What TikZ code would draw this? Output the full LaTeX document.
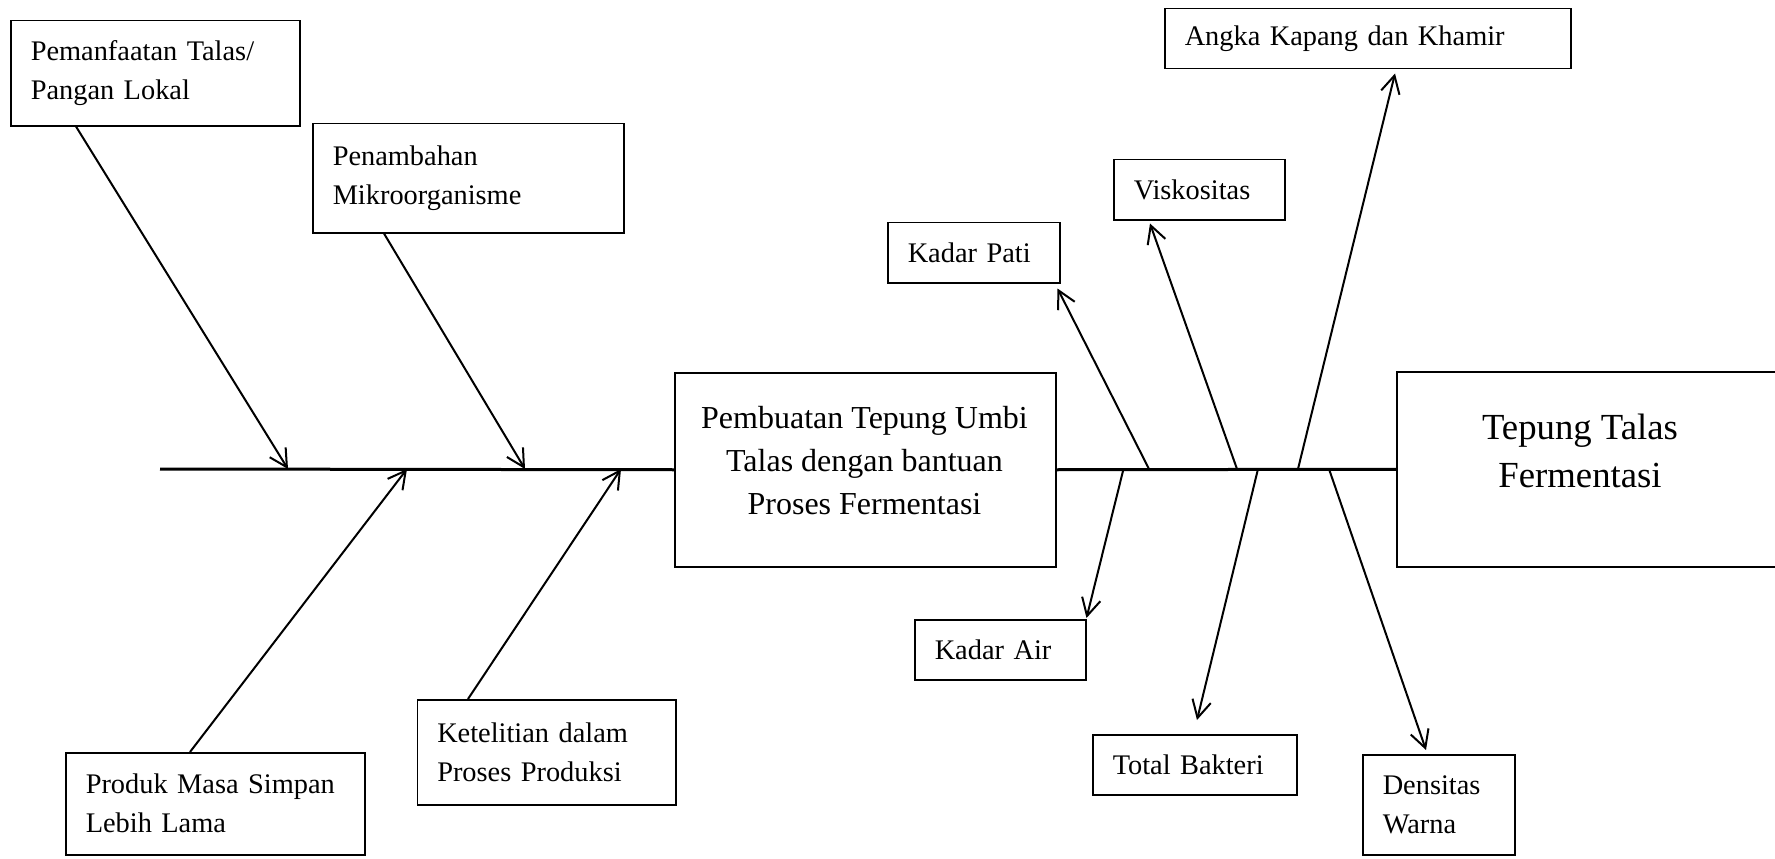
\documentclass[tikz,border=0pt]{standalone}
\usepackage{fontspec}
\setmainfont{Liberation Serif}
\usetikzlibrary{arrows.meta,calc}
\begin{document}
\begin{tikzpicture}[x=0.4pt,y=-0.4pt,
  box/.style={draw, line width=0.6pt, rectangle, anchor=north west, inner xsep=8pt, inner ysep=0pt, align=left, font=\fontsize{11.35}{15.6}\selectfont},
  arr/.style={line width=0.8pt, -{Straight Barb[length=7pt,width=7.5pt]}},
  spine/.style={line width=1.2pt}]
\useasboundingbox (0,0) rectangle (1775,859);

% cause boxes (left)
\node[box, text width=99.6pt, minimum height=42pt] (p1) at (10,20) {Pemanfaatan Talas/\\Pangan Lokal};
\node[box, text width=108.4pt, minimum height=43.6pt] (p2) at (312,123) {Penambahan\\Mikroorganisme};
\node[box, text width=103.6pt, minimum height=40.8pt] (p3) at (65,752) {Produk Masa Simpan\\Lebih Lama};
\node[box, text width=87.4pt, minimum height=42pt] (p4) at (416.5,699) {Ketelitian dalam\\Proses Produksi};

% centre and result
\node[draw, line width=0.6pt, anchor=north west, minimum width=152.4pt, minimum height=77.6pt, inner sep=0pt] (c) at (674,372) {};
\node[font=\fontsize{12.8}{17.2}\selectfont, align=center, inner sep=0pt] (ct) at (864.5,461) {Pembuatan Tepung Umbi\\Talas dengan bantuan\\Proses Fermentasi};
\node[draw, line width=0.6pt, anchor=north west, minimum width=153.6pt, minimum height=78pt, inner sep=0pt] (r) at (1396,371) {};
\node[font=\fontsize{14.7}{19.2}\selectfont, align=center, inner sep=0pt] (rt) at (1580,451) {Tepung Talas\\Fermentasi};

% effect boxes (right)
\node[box, text width=146.4pt, minimum height=24pt] (ak) at (1164,8) {Angka Kapang dan Khamir};
\node[box, text width=52.4pt, minimum height=24pt] (vk) at (1113,159) {Viskositas};
\node[box, text width=52.8pt, minimum height=24pt] (kp) at (887,222) {Kadar Pati};
\node[box, text width=52.4pt, minimum height=24pt] (ka) at (914,619) {Kadar Air};
\node[box, text width=65.6pt, minimum height=24pt] (tb) at (1092,734) {Total Bakteri};
\node[box, text width=44.8pt, minimum height=40pt] (dw) at (1362,754) {Densitas\\Warna};

% spine
\coordinate (s0) at (160,469);
\draw[spine] (s0) -- (c.west);
\draw[spine] (c.east) -- (r.west);

% spine points
\coordinate (a1) at (288,469);
\coordinate (a2) at (525,469);
\coordinate (a3) at (407,469);
\coordinate (a4) at (621,469);
\coordinate (b1) at (1149,469);
\coordinate (b2) at (1237,469);
\coordinate (b3) at (1298,469);
\coordinate (b4) at (1123.5,469);
\coordinate (b5) at (1258,469);
\coordinate (b6) at (1329,469);

% left arrows
\draw[arr] ([shift={(66,0)}]p1.south west) -- (a1);
\draw[arr] ([shift={(72,0)}]p2.south west) -- (a2);
\draw[arr] ([shift={(125,0)}]p3.north west) -- (a3);
\draw[arr] ([shift={(51.5,0)}]p4.north west) -- (a4);

% right arrows
\draw[arr] (b1) -- ([shift={(-3,5)}]kp.south east);
\draw[arr] (b2) -- ([shift={(37,3)}]vk.south west);
\draw[arr] (b3) -- ([shift={(231,4)}]ak.south west);
\draw[arr] (b4) -- ([shift={(0,-1)}]ka.north east);
\draw[arr] (b5) -- ([shift={(105,-14)}]tb.north west);
\draw[arr] (b6) -- ([shift={(64,-4)}]dw.north west);
\end{tikzpicture}
\end{document}
